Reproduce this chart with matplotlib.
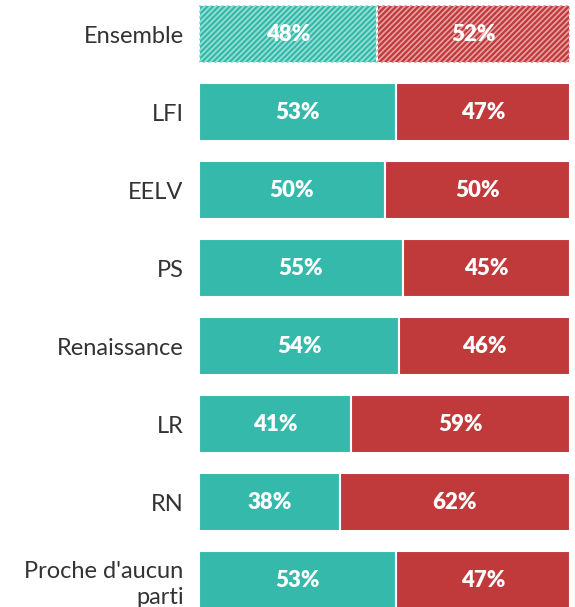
import matplotlib.pyplot as plt
import numpy as np

categories = ['Ensemble', 'LFI', 'EELV', 'PS', 'Renaissance', 'LR', 'RN', "Proche d'aucun\nparti"]
oui = [48, 53, 50, 55, 54, 41, 38, 53]
non = [52, 47, 50, 45, 46, 59, 62, 47]

teal = '#35b9aa'
red = '#c0393b'

plt.rcParams['font.family'] = ['Lato', 'DejaVu Sans']
plt.rcParams['hatch.linewidth'] = 1.2

fig = plt.figure(figsize=(5.75, 6.07), dpi=100)
ax = fig.add_axes([199 / 575, 0, 371 / 575, 1])

y = np.arange(len(categories))
for i in y:
    ax.barh(i, oui[i], height=0.744, color=teal, edgecolor='white', linewidth=1.5)
    ax.barh(i, non[i], left=oui[i], height=0.744, color=red, edgecolor='white', linewidth=1.5)
    if i == 0:
        # "Ensemble" bar is hatched
        ax.barh(i, oui[i], height=0.744, color='none', edgecolor='#9be0d6', hatch='//////', linewidth=0)
        ax.barh(i, non[i], left=oui[i], height=0.744, color='none', edgecolor='#e6a3a4', hatch='//////', linewidth=0)
    ax.text(oui[i] / 2, i, f'{oui[i]}%', color='white', fontsize=16, fontweight='heavy',
            ha='center', va='center')
    ax.text(oui[i] + non[i] / 2, i, f'{non[i]}%', color='white', fontsize=16, fontweight='heavy',
            ha='center', va='center')

ax.set_xlim(0, 100)
ax.set_ylim(7.346, -0.436)
ax.set_yticks(y)
ax.set_yticklabels(categories, fontsize=17, color='#333333', linespacing=1.3)
ax.tick_params(axis='y', length=0, pad=11)
ax.set_xticks([])
for s in ax.spines.values():
    s.set_visible(False)

fig.savefig('out.png', dpi=100)
